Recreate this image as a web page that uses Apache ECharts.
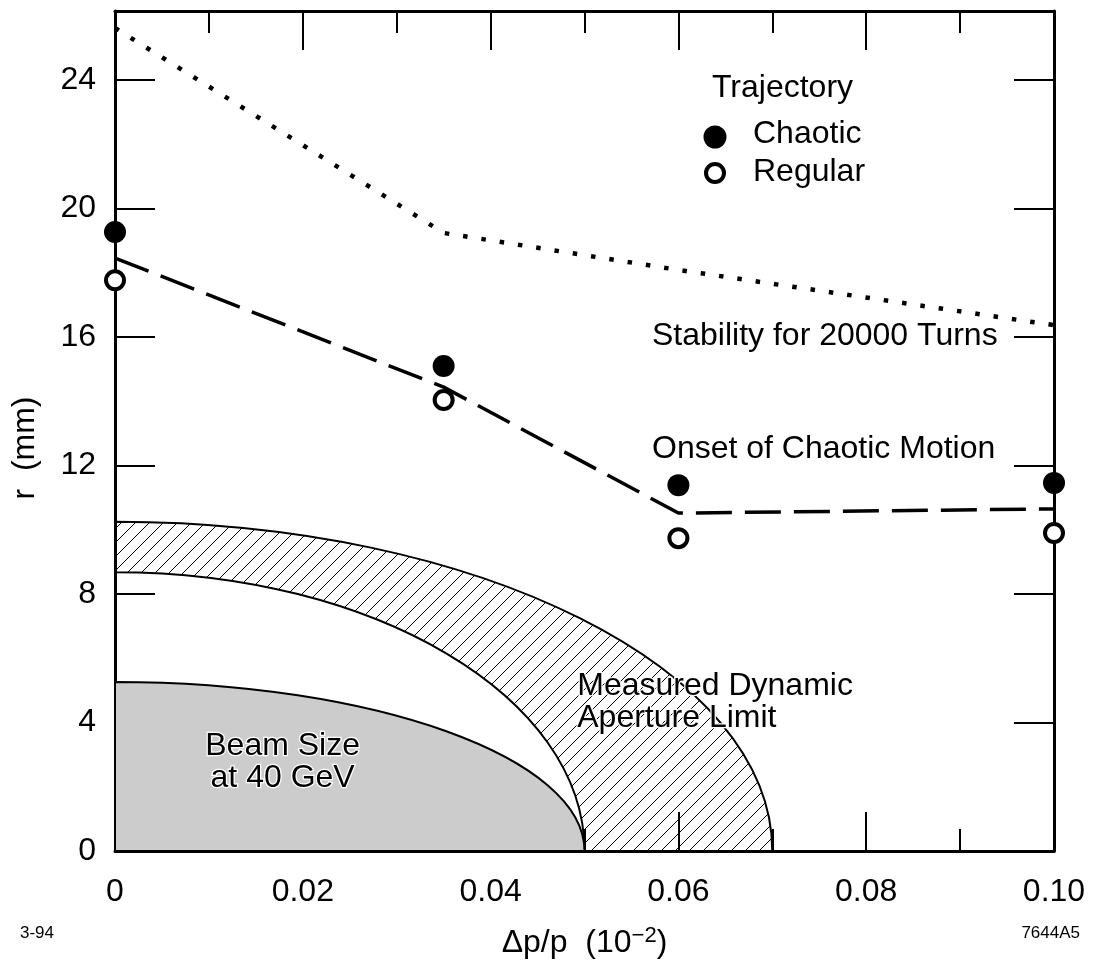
<!DOCTYPE html>
<html>
<head>
<meta charset="utf-8">
<script src="https://cdn.jsdelivr.net/npm/echarts@6/dist/echarts.min.js"></script>
<style>
  html, body { margin: 0; padding: 0; background: #fff; }
  #chart { width: 1094px; height: 970px; }
</style>
</head>
<body>
<div id="chart"></div>
<script>
// Momentum deviation (10^-2) at which each measurement was taken
const momentumDev = [0, 0.035, 0.06, 0.10];
// Tracked amplitudes r (mm)
const chaoticR = [19.27, 15.1, 11.39, 11.46];
const regularR = [17.77, 14.04, 9.74, 9.9];
const onsetR = [18.46, 14.44, 10.52, 10.65];
const stabilityR = [25.62, 19.24, 18.09, 16.37];
// Elliptical regions: [Δp/p intercept, r intercept]
const apertureOuter = [0.07, 10.25];
const apertureInner = [0.05, 8.68];
const beamSize = [0.05, 5.26];
// Axis ticks
const xTicks = [0, 0.02, 0.04, 0.06, 0.08, 0.10];
const yTicks = [0, 4, 8, 12, 16, 20, 24];

const FONT = "'Liberation Sans', Arial, Helvetica, sans-serif";
const FS = 32;

const pair = (xs, ys) => xs.map((x, i) => [x, ys[i]]);

// diagonal hatch texture
function hatchPattern(step) {
  const c = document.createElement('canvas');
  c.width = step; c.height = step;
  const g = c.getContext('2d');
  g.strokeStyle = '#000';
  g.lineWidth = 1;
  g.beginPath();
  g.moveTo(0, step); g.lineTo(step, 0);
  g.moveTo(-1, 1); g.lineTo(1, -1);
  g.moveTo(step - 1, step + 1); g.lineTo(step + 1, step - 1);
  g.stroke();
  return c;
}
const hatch = { image: hatchPattern(14), repeat: 'repeat' };

// quarter-ellipse outline (Bezier) between the two axis intercepts
const K = 0.5523;
function quarterEllipse(api, rx, ry, reverse) {
  const o = api.coord([0, 0]);
  const px = api.coord([rx, 0]);
  const py = api.coord([0, ry]);
  const ax = px[0] - o[0], ay = o[1] - py[1];
  if (!reverse) {
    return `C ${o[0] + K * ax} ${py[1]} ${px[0]} ${o[1] - K * ay} ${px[0]} ${o[1]}`;
  }
  return `C ${px[0]} ${o[1] - K * ay} ${o[0] + K * ax} ${py[1]} ${o[0]} ${py[1]}`;
}

const chart = echarts.init(document.getElementById('chart'), null, { renderer: 'canvas' });

const axisCommon = {
  axisLine: { show: true, onZero: false, lineStyle: { color: '#000', width: 3 } },
  splitLine: { show: false },
};

const option = {
  backgroundColor: '#fff',
  animation: false,
  grid: { left: 115, right: 40, top: 11, bottom: 119, containLabel: false, outerBoundsMode: 'none' },
  xAxis: [
    Object.assign({
      type: 'value', min: 0, max: 0.1, interval: 0.02, position: 'bottom',
      axisTick: { inside: true, length: 39, lineStyle: { color: '#000', width: 2 } },
      minorTick: { show: true, splitNumber: 2, length: 22, lineStyle: { color: '#000', width: 2 } },
      axisLabel: {
        margin: 25, color: '#000', fontFamily: FONT, fontSize: FS,
        formatter: v => (v === 0 ? '0' : v.toFixed(2))
      },
      name: '{t|Δp/p  (10}{s|−2}{t|)}',
      nameLocation: 'middle', nameGap: 74,
      nameTextStyle: {
        rich: {
          t: { fontFamily: FONT, fontSize: FS, color: '#000', lineHeight: 36 },
          s: { fontFamily: FONT, fontSize: 22, color: '#000', verticalAlign: 'top', lineHeight: 36 }
        }
      }
    }, axisCommon),
    Object.assign({
      type: 'value', min: 0, max: 0.1, interval: 0.02, position: 'top',
      axisTick: { inside: true, length: 39, lineStyle: { color: '#000', width: 2 } },
      minorTick: { show: true, splitNumber: 2, length: 22, lineStyle: { color: '#000', width: 2 } },
      axisLabel: { show: false }
    }, axisCommon)
  ],
  yAxis: [
    Object.assign({
      type: 'value', min: 0, max: 26.15, interval: 4, position: 'left',
      axisTick: { inside: true, length: 40, lineStyle: { color: '#000', width: 2 } },
      axisLabel: {
        margin: 19, color: '#000', fontFamily: FONT, fontSize: FS,
        formatter: v => (yTicks.includes(v) ? String(v) : '')
      }
    }, axisCommon),
    Object.assign({
      type: 'value', min: 0, max: 26.15, interval: 4, position: 'right',
      axisTick: { inside: true, length: 40, lineStyle: { color: '#000', width: 2 } },
      axisLabel: { show: false }
    }, axisCommon)
  ],
  series: [
    {
      // hatched band: measured dynamic aperture limit
      type: 'custom', name: 'aperture', z: 1,
      data: [[apertureOuter[0], apertureOuter[1], apertureInner[0], apertureInner[1]]],
      encode: { x: [0, 2], y: [1, 3] },
      clip: true,
      renderItem: (params, api) => {
        const ox = api.value(0), oy = api.value(1), ix = api.value(2), iy = api.value(3);
        const top = api.coord([0, oy]);
        const inX = api.coord([ix, 0]);
        const d = `M ${top[0]} ${top[1]} ` + quarterEllipse(api, ox, oy, false) +
          ` L ${inX[0]} ${inX[1]} ` + quarterEllipse(api, ix, iy, true) + ' Z';
        return { type: 'path', shape: { pathData: d }, style: { fill: hatch, stroke: '#000', lineWidth: 2 } };
      }
    },
    {
      // beam size
      type: 'custom', name: 'beam', z: 1,
      data: [beamSize],
      encode: { x: 0, y: 1 },
      clip: true,
      renderItem: (params, api) => {
        const rx = api.value(0), ry = api.value(1);
        const o = api.coord([0, 0]);
        const top = api.coord([0, ry]);
        const d = `M ${top[0]} ${top[1]} ` + quarterEllipse(api, rx, ry, false) + ` L ${o[0]} ${o[1]} Z`;
        return { type: 'path', shape: { pathData: d }, style: { fill: '#cccccc', stroke: '#000', lineWidth: 2 } };
      }
    },
    {
      type: 'line', name: 'Stability', z: 3,
      data: pair(momentumDev, stabilityR),
      symbol: 'none', silent: true,
      lineStyle: { color: '#000', width: 4.5, type: [4.5, 14], cap: 'butt' }
    },
    {
      type: 'line', name: 'Onset', z: 3,
      data: pair(momentumDev, onsetR),
      symbol: 'none', silent: true,
      lineStyle: { color: '#000', width: 3.5, type: [36, 13], cap: 'butt' }
    },
    {
      type: 'scatter', name: 'Chaotic', z: 4,
      data: pair(momentumDev, chaoticR),
      symbol: 'circle', symbolSize: 22, clip: false,
      itemStyle: { color: '#000', opacity: 1 }
    },
    {
      type: 'scatter', name: 'Regular', z: 4,
      data: pair(momentumDev, regularR),
      symbol: 'circle', symbolSize: 18, clip: false,
      itemStyle: { color: '#fff', borderColor: '#000', borderWidth: 4, opacity: 1 }
    }
  ],
  graphic: [
    // y axis title
    { type: 'text', x: 25, y: 448, rotation: Math.PI / 2,
      style: { text: 'r  (mm)', font: `${FS}px ${FONT}`, fill: '#000', align: 'center', verticalAlign: 'middle', textAlign: 'center', textVerticalAlign: 'middle' } },
    // legend
    { type: 'text', left: 712, top: 72, style: { text: 'Trajectory', font: `${FS}px ${FONT}`, fill: '#000' } },
    { type: 'circle', shape: { cx: 715, cy: 137, r: 11.5 }, style: { fill: '#000' } },
    { type: 'text', left: 753, top: 118, style: { text: 'Chaotic', font: `${FS}px ${FONT}`, fill: '#000' } },
    { type: 'circle', shape: { cx: 715, cy: 173, r: 9 }, style: { fill: '#fff', stroke: '#000', lineWidth: 4 } },
    { type: 'text', left: 753, top: 156, style: { text: 'Regular', font: `${FS}px ${FONT}`, fill: '#000' } },
    // annotations
    { type: 'text', left: 652, top: 320, style: { text: 'Stability for 20000 Turns', font: `${FS}px ${FONT}`, fill: '#000' } },
    { type: 'text', left: 652, top: 433, style: { text: 'Onset of Chaotic Motion', font: `${FS}px ${FONT}`, fill: '#000' } },
    { type: 'text', left: 576, top: 669, z: 10, style: { text: 'Measured Dynamic\nAperture Limit', lineHeight: 32, font: `${FS}px ${FONT}`, fill: '#000', stroke: '#fff', lineWidth: 2.5 } },
    { type: 'text', left: 204, top: 729, z: 10, style: { text: 'Beam Size\nat 40 GeV', lineHeight: 32, align: 'center', textAlign: 'center', font: `${FS}px ${FONT}`, fill: '#000', stroke: '#fff', lineWidth: 2.5 } },
    // figure codes
    { type: 'text', left: 20, top: 925, style: { text: '3-94', font: `17px ${FONT}`, fill: '#000' } },
    { type: 'text', right: 14, top: 925, style: { text: '7644A5', font: `17px ${FONT}`, fill: '#000' } }
  ]
};

chart.setOption(option);
</script>
</body>
</html>
